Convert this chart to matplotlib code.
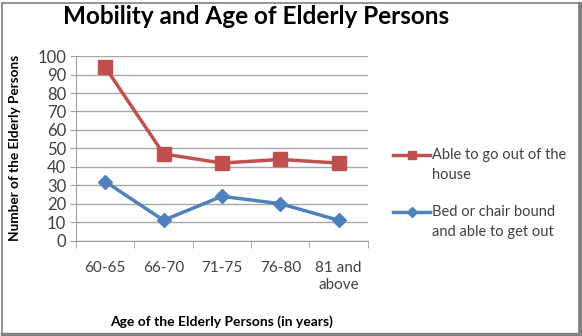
import numpy as np
import matplotlib.pyplot as plt
from matplotlib.patches import Rectangle
from matplotlib.lines import Line2D

# data
age_groups = ['60-65', '66-70', '71-75', '76-80', '81 and\nabove']
able_to_go_out = [94, 47, 42, 44, 42]
bed_or_chair = [32, 11, 24, 20, 11]
series_labels = ['Able to go out of the\nhouse', 'Bed or chair bound\nand able to get out']

plt.rcParams['font.family'] = ['Lato', 'DejaVu Sans']

fig = plt.figure(figsize=(5.82, 3.36), dpi=100)
ax = fig.add_axes([0.1306, 0.284, 0.5014, 0.549])

x = np.arange(len(age_groups))
red = '#c0504d'
blue = '#4f81bd'
ax.plot(x, able_to_go_out, color=red, linewidth=2.5, marker='s', markersize=10)
ax.plot(x, bed_or_chair, color=blue, linewidth=2.5, marker='D', markersize=7)

ax.set_xlim(-0.5, len(age_groups) - 0.5)
ax.set_ylim(0, 100)
ax.set_yticks(range(0, 101, 10))
ax.set_xticks(x)
ax.set_xticklabels(age_groups, fontsize=11, color='#404040')
ax.set_xticks(np.arange(-0.5, len(age_groups)), minor=True)
ax.tick_params(axis='x', which='major', length=0, pad=15)
ax.tick_params(axis='x', which='minor', length=5, color='#a0a0a0', direction='out')
ax.tick_params(axis='y', length=4, color='#a0a0a0', labelsize=12, labelcolor='#404040', pad=3)
ax.grid(axis='y', color='#a6a6a6', linewidth=1)
ax.set_axisbelow(True)
for s in ['top', 'right']:
    ax.spines[s].set_visible(False)
for s in ['left', 'bottom']:
    ax.spines[s].set_color('#a0a0a0')

ax.set_xlabel('Age of the Elderly Persons (in years)', fontsize=10, fontweight='bold', labelpad=17)
ax.set_ylabel('Number of the Elderly Persons', fontsize=9.8, fontweight='bold', labelpad=12)

fig.text(0.44, 0.952, 'Mobility and Age of Elderly Persons', ha='center', va='center',
         fontsize=17.5, fontweight='bold')

# legend, handle sits beside the first line of each label
W, H = 582, 336
legend_rows = [(155, red, 's', 6), (212, blue, 'D', 5)]
for (ypx, c, m, ms), lab in zip(legend_rows, series_labels):
    y = 1 - ypx / H
    fig.add_artist(Line2D([393 / W, 430 / W], [y, y], transform=fig.transFigure,
                          color=c, linewidth=2.5))
    fig.add_artist(Line2D([411.5 / W], [y], transform=fig.transFigure, color=c,
                          marker=m, markersize=ms, linestyle='none'))
    fig.text(432 / W, y + 7 / H, lab, ha='left', va='top', fontsize=10.5,
             color='#404040', linespacing=1.55)

# frame around the whole image
fig.add_artist(Rectangle((0.003, 0.006), 0.991, 0.985, transform=fig.transFigure,
                         fill=False, edgecolor='#808080', linewidth=1.2))
fig.add_artist(Line2D([0.996, 0.996], [0.006, 0.99], transform=fig.transFigure,
                      color='#808080', linewidth=2.5))
fig.add_artist(Line2D([0.003, 0.996], [0.005, 0.005], transform=fig.transFigure,
                      color='#808080', linewidth=2.5))

fig.savefig('out.png', dpi=100)
